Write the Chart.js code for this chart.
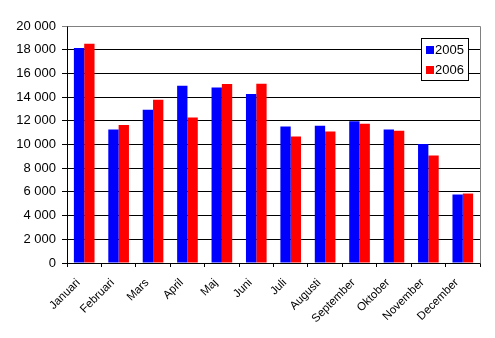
<!DOCTYPE html>
<html>
<head>
<meta charset="utf-8">
<script src="https://cdn.jsdelivr.net/npm/chart.js@4/dist/chart.umd.min.js"></script>
<style>
  html, body { margin: 0; padding: 0; background: #fff; }
  #wrap { width: 495px; height: 338px; position: relative; }
</style>
</head>
<body>
<div id="wrap"><canvas id="salesChart"></canvas></div>
<script>
var months = ['Januari', 'Februari', 'Mars', 'April', 'Maj', 'Juni', 'Juli',
              'Augusti', 'September', 'Oktober', 'November', 'December'];
var values_2005 = [18150, 11260, 12940, 14960, 14800, 14260, 11510, 11590, 11960, 11260, 10050, 5780];
var values_2006 = [18500, 11650, 13780, 12270, 15100, 15130, 10670, 11090, 11760, 11170, 9070, 5860];
var series_labels = ['2005', '2006'];
var series_colors = ['#0000ff', '#ff0000'];

function fmt_thousands(v)
{
    return String(v).replace(/\B(?=(\d{3})+(?!\d))/g, ' ');
}

// white page + gray frame on top/right of the plot area
var frame_plugin = {
    id: 'frame',
    beforeDraw: function(chart) {
        var c = chart.ctx;
        c.save();
        c.fillStyle = '#fff';
        c.fillRect(0, 0, chart.width, chart.height);
        c.restore();
    },
    afterDatasetsDraw: function(chart) {
        var a = chart.chartArea, c = chart.ctx;
        c.save();
        c.strokeStyle = '#808080';
        c.lineWidth = 1;
        c.beginPath();
        c.moveTo(Math.round(a.left) + 0.5, Math.round(a.top) + 0.5);
        c.lineTo(Math.round(a.right) + 0.5, Math.round(a.top) + 0.5);
        c.lineTo(Math.round(a.right) + 0.5, Math.round(a.bottom) + 0.5);
        c.stroke();
        c.restore();
    }
};

// boxed legend sitting inside the plot area, top right
var box_legend = {
    id: 'boxLegend',
    afterDraw: function(chart) {
        var c = chart.ctx;
        var x = 421.5, y = 38.5, w = 47, h = 42;
        c.save();
        c.fillStyle = '#fff';
        c.fillRect(x, y, w, h);
        c.strokeStyle = '#000';
        c.lineWidth = 1;
        c.strokeRect(x, y, w, h);
        c.font = '13px "Liberation Sans", Arial, sans-serif';
        c.textBaseline = 'middle';
        chart.data.datasets.forEach(function(ds, i) {
            var cy = 50 + i * 20;
            c.fillStyle = ds.backgroundColor;
            c.fillRect(426, cy - 4, 8, 8);
            c.fillStyle = '#000';
            c.fillText(ds.label, 435, cy);
        });
        c.restore();
    }
};

var chart = new Chart(document.getElementById('salesChart'), {
    type: 'bar',
    data: {
        labels: months,
        datasets: [
            { label: series_labels[0], data: values_2005, backgroundColor: series_colors[0] },
            { label: series_labels[1], data: values_2006, backgroundColor: series_colors[1] }
        ]
    },
    options: {
        responsive: true,
        maintainAspectRatio: false,
        animation: false,
        layout: { padding: { left: 0, top: 26, right: 15, bottom: 0 } },
        datasets: { bar: { categoryPercentage: 0.6, barPercentage: 1.0 } },
        plugins: {
            legend: { display: false },
            tooltip: { enabled: false }
        },
        scales: {
            x: {
                afterFit: function(s) { s.height = 75; },
                grid: {
                    offset: true,
                    drawOnChartArea: false,
                    drawTicks: true,
                    tickLength: 4,
                    color: '#000'
                },
                border: { color: '#000', width: 1 },
                ticks: {
                    color: '#000',
                    font: { family: '"Liberation Sans", Arial, sans-serif', size: 11.5 },
                    minRotation: 45,
                    maxRotation: 45,
                    autoSkip: false,
                    padding: 9,
                    labelOffset: -6
                }
            },
            y: {
                min: 0,
                max: 20000,
                afterFit: function(s) { s.width = 67; },
                grid: {
                    color: function(ctx) { return ctx.tick && ctx.tick.value === 20000 ? '#808080' : '#000'; },
                    tickLength: 5,
                    drawTicks: true
                },
                border: { color: '#000', width: 1 },
                ticks: {
                    stepSize: 2000,
                    color: '#000',
                    padding: 6,
                    font: { family: '"Liberation Sans", Arial, sans-serif', size: 13 },
                    callback: function(v) { return fmt_thousands(v); }
                }
            }
        }
    },
    plugins: [frame_plugin, box_legend]
});
</script>
</body>
</html>
